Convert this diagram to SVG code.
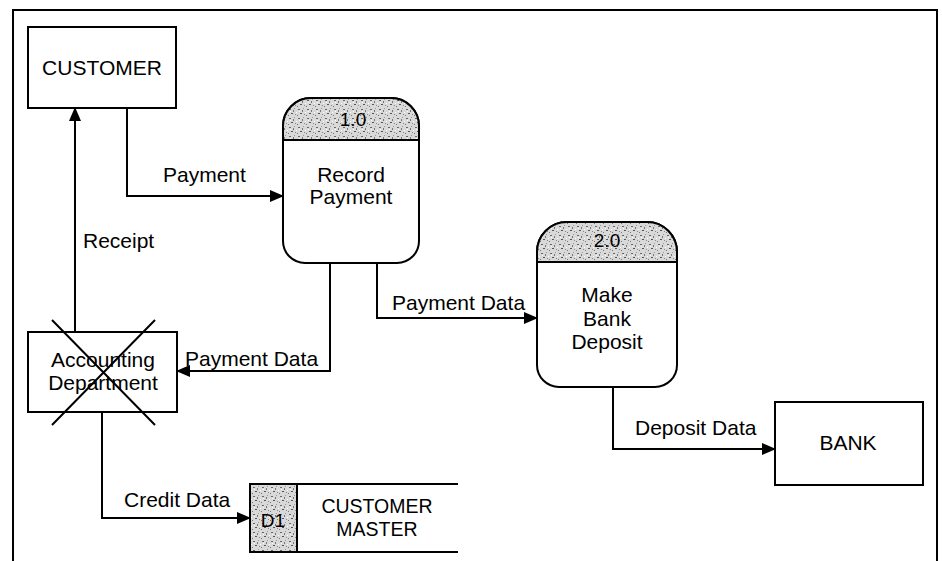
<svg xmlns="http://www.w3.org/2000/svg" width="942" height="561" viewBox="0 0 942 561">
<style>
.ln{fill:none;stroke:#000;stroke-width:2}
.bx{fill:#fff;stroke:#000;stroke-width:2}
.hd{fill:url(#stip);stroke:#000;stroke-width:2}
text{font-family:"Liberation Sans",Arial,sans-serif;font-size:21px;fill:#000}
.c{text-anchor:middle}
.n{font-size:19px}
.s{font-size:19.5px}
</style>
<defs>
<pattern id="stip" width="9" height="9" patternUnits="userSpaceOnUse">
<rect width="9" height="9" fill="#d9d9d9"/>
<rect x="1" y="1" width="2" height="1" fill="#666"/>
<rect x="5" y="2" width="1" height="2" fill="#777"/>
<rect x="3" y="5" width="2" height="1" fill="#555"/>
<rect x="7" y="6" width="1" height="1" fill="#888"/>
<rect x="0" y="7" width="1" height="1" fill="#777"/>
<rect x="6" y="0" width="1" height="1" fill="#999"/>
<rect x="8" y="4" width="1" height="1" fill="#fff"/>
<rect x="2" y="3" width="1" height="1" fill="#fff"/>
</pattern>
<marker id="ah" markerWidth="14" markerHeight="12" refX="13" refY="6" orient="auto" markerUnits="userSpaceOnUse">
<path d="M0,0 L14,6 L0,12 Z" fill="#000"/>
</marker>
</defs>
<path class="ln" d="M13,561 V10 H937 V561"/>
<g id="customer">
<rect class="bx" x="28" y="27" width="148" height="81"/>
<text class="c" x="102" y="75">CUSTOMER</text>
</g>
<g id="p1">
<path class="bx" d="M283,126 A28,28 0 0 1 311,98 H391 A28,28 0 0 1 419,126 V241 A22,22 0 0 1 397,263 H305 A22,22 0 0 1 283,241 Z"/>
<path class="hd" d="M283,140 V126 A28,28 0 0 1 311,98 H391 A28,28 0 0 1 419,126 V140 Z"/>
<text class="c n" x="353" y="126">1.0</text>
<text class="c" x="351" y="182">Record</text>
<text class="c" x="351" y="204">Payment</text>
</g>
<g id="p2">
<path class="bx" d="M537,252 A30,30 0 0 1 567,222 H647 A30,30 0 0 1 677,252 V365 A22,22 0 0 1 655,387 H559 A22,22 0 0 1 537,365 Z"/>
<path class="hd" d="M537,262 V252 A30,30 0 0 1 567,222 H647 A30,30 0 0 1 677,252 V262 Z"/>
<text class="c n" x="607" y="247">2.0</text>
<text class="c" x="607" y="302">Make</text>
<text class="c" x="607" y="326">Bank</text>
<text class="c" x="607" y="349">Deposit</text>
</g>
<g id="accounting">
<rect class="bx" x="28" y="332" width="149" height="80"/>
<text class="c" x="103" y="367">Accounting</text>
<text class="c" x="103" y="390">Department</text>
<path class="ln" d="M52,320 L155,425 M155,320 L52,425"/>
</g>
<g id="bank">
<rect class="bx" x="775" y="402" width="148" height="83"/>
<text class="c" x="848" y="450">BANK</text>
</g>
<g id="d1">
<path class="ln" d="M297,484 H458 M297,552 H458"/>
<rect class="hd" x="250" y="484" width="47" height="68" stroke-width="3"/>
<text class="c n" x="273" y="527">D1</text>
<text class="c s" x="377" y="513">CUSTOMER</text>
<text class="c s" x="377" y="536">MASTER</text>
</g>
<g id="connectors">
<path class="ln" d="M127,108 V196 H283" marker-end="url(#ah)"/>
<path class="ln" d="M75,332 V108" marker-end="url(#ah)"/>
<path class="ln" d="M330,263 V371 H177" marker-end="url(#ah)"/>
<path class="ln" d="M377,263 V318 H537" marker-end="url(#ah)"/>
<path class="ln" d="M613,387 V449 H775" marker-end="url(#ah)"/>
<path class="ln" d="M102,412 V518 H250" marker-end="url(#ah)"/>
<text x="163" y="182">Payment</text>
<text x="83" y="248">Receipt</text>
<text x="185" y="366">Payment Data</text>
<text x="392" y="310">Payment Data</text>
<text x="635" y="435">Deposit Data</text>
<text x="124" y="507">Credit Data</text>
</g>
</svg>
